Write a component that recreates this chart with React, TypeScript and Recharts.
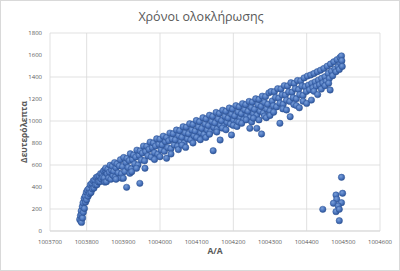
import React from "react";
import { ScatterChart, Scatter, XAxis, YAxis, CartesianGrid } from "recharts";

// [Α/Α, seconds]
const startRun: [number, number][] = [
  [1003781, 105], [1003783, 140], [1003784, 90], [1003785, 182], [1003786, 78], [1003787, 150],
  [1003788, 222], [1003789, 118], [1003790, 256], [1003791, 170], [1003793, 296], [1003794, 205],
  [1003796, 318], [1003797, 262], [1003799, 352], [1003800, 284], [1003802, 372], [1003804, 316],
  [1003806, 386], [1003808, 340], [1003810, 420], [1003812, 350], [1003814, 432], [1003816, 382],
  [1003818, 456], [1003820, 390], [1003822, 462], [1003824, 418], [1003826, 486], [1003828, 420],
  [1003830, 494], [1003832, 446], [1003834, 500], [1003836, 448], [1003838, 522], [1003840, 472],
  [1003842, 520], [1003844, 486], [1003846, 546], [1003848, 482], [1003850, 556], [1003850, 444],
];

const earlyBand: [number, number][] = [
  [1003852, 572], [1003854, 448], [1003856, 520], [1003858, 561], [1003860, 482], [1003862, 535],
  [1003864, 598], [1003866, 470], [1003868, 552], [1003870, 590], [1003872, 505], [1003874, 543],
  [1003876, 622], [1003878, 488], [1003880, 575], [1003883, 610], [1003886, 528], [1003889, 592],
  [1003892, 648], [1003895, 520], [1003898, 585], [1003901, 668], [1003904, 541], [1003907, 622],
  [1003910, 660], [1003913, 578], [1003916, 640], [1003919, 702], [1003922, 566], [1003925, 650],
  [1003928, 690], [1003931, 610], [1003934, 672], [1003937, 735], [1003940, 600], [1003943, 688],
  [1003946, 728], [1003949, 645], [1003952, 708], [1003955, 772], [1003958, 638], [1003961, 722],
  [1003964, 770], [1003967, 684], [1003970, 742], [1003973, 808], [1003976, 672], [1003979, 758],
  [1003982, 800], [1003985, 712], [1003988, 772], [1003991, 838], [1003994, 698], [1003997, 788],
  [1004000, 835],
];

const midBand: [number, number][] = [
  [1004003, 738], [1004006, 782], [1004009, 862], [1004012, 724], [1004015, 812], [1004018, 850],
  [1004021, 758], [1004024, 820], [1004027, 890], [1004030, 748], [1004033, 836], [1004036, 884],
  [1004039, 782], [1004042, 828], [1004045, 918], [1004048, 772], [1004051, 868], [1004054, 912],
  [1004057, 812], [1004060, 852], [1004063, 948], [1004066, 800], [1004069, 892], [1004072, 944],
  [1004075, 838], [1004078, 884], [1004081, 975], [1004084, 828], [1004087, 918], [1004090, 968],
  [1004093, 866], [1004096, 908], [1004099, 1004], [1004102, 852], [1004105, 946], [1004108, 994],
  [1004111, 892], [1004114, 932], [1004117, 1030], [1004120, 878], [1004123, 972], [1004126, 1018],
  [1004129, 918], [1004132, 958], [1004135, 1052], [1004138, 902], [1004141, 996], [1004144, 1042],
  [1004147, 942], [1004150, 982], [1004153, 1078], [1004156, 928], [1004159, 1018], [1004162, 1068],
  [1004165, 962], [1004168, 1002], [1004171, 1098], [1004174, 952], [1004177, 1042], [1004180, 1088],
  [1004183, 988], [1004186, 1026], [1004189, 1118], [1004192, 972], [1004195, 1062], [1004198, 1108],
  [1004201, 1008], [1004204, 1046], [1004207, 1140], [1004210, 992], [1004213, 1082], [1004216, 1128],
  [1004219, 1028], [1004222, 1066], [1004225, 1158], [1004228, 1012], [1004231, 1102], [1004234, 1148],
  [1004237, 1048], [1004240, 1088], [1004243, 1178], [1004246, 1032], [1004249, 1122], [1004252, 1172],
  [1004255, 1068], [1004258, 1106], [1004261, 1202], [1004264, 1052], [1004267, 1148], [1004270, 1196],
  [1004273, 1088], [1004276, 1132], [1004279, 1226], [1004282, 1072], [1004285, 1168], [1004288, 1222],
  [1004291, 1108], [1004294, 1152], [1004297, 1256], [1004300, 1092],
];

const lateBand: [number, number][] = [
  [1004303, 1268], [1004306, 1182], [1004309, 1138], [1004312, 1266], [1004315, 1214], [1004318, 1128],
  [1004321, 1294], [1004324, 1208], [1004327, 1162], [1004330, 1292], [1004333, 1238], [1004336, 1152],
  [1004339, 1322], [1004342, 1236], [1004345, 1188], [1004348, 1318], [1004351, 1264], [1004354, 1178],
  [1004357, 1348], [1004360, 1262], [1004363, 1212], [1004366, 1342], [1004369, 1294], [1004372, 1202],
  [1004375, 1368], [1004378, 1286], [1004381, 1240], [1004384, 1366], [1004387, 1318], [1004390, 1232],
  [1004393, 1392], [1004396, 1312], [1004399, 1268], [1004402, 1408], [1004405, 1326], [1004408, 1284],
  [1004411, 1418], [1004414, 1342], [1004417, 1302], [1004420, 1432], [1004423, 1356], [1004426, 1316],
  [1004429, 1448], [1004432, 1372], [1004435, 1330], [1004438, 1462], [1004441, 1388], [1004444, 1346],
  [1004447, 1478], [1004450, 1402], [1004453, 1362], [1004456, 1498], [1004459, 1432], [1004462, 1388],
  [1004465, 1518], [1004468, 1452], [1004471, 1412], [1004474, 1538], [1004477, 1472], [1004480, 1448],
  [1004483, 1558], [1004486, 1494], [1004489, 1468], [1004491, 1578], [1004493, 1522], [1004495, 1592],
  [1004496, 1548], [1004497, 1496],
];

const belowBand: [number, number][] = [
  [1003880, 470], [1003895, 480], [1003900, 479], [1003909, 397], [1003918, 524], [1003923, 539],
  [1003936, 570], [1003945, 433], [1003959, 570], [1003985, 650], [1004000, 675], [1004018, 661],
  [1004030, 700], [1004050, 740], [1004060, 780], [1004070, 760], [1004090, 800], [1004100, 850],
  [1004110, 830], [1004125, 850], [1004135, 880], [1004145, 730], [1004155, 900], [1004164, 827],
  [1004170, 935], [1004180, 920], [1004195, 873], [1004200, 960], [1004210, 950], [1004215, 990],
  [1004223, 979], [1004235, 1010], [1004245, 933], [1004250, 990], [1004255, 1025], [1004264, 933],
  [1004270, 1010], [1004277, 882], [1004285, 1045], [1004290, 1030], [1004300, 1050], [1004310, 1080],
  [1004327, 979], [1004335, 1110], [1004345, 1100], [1004355, 1039], [1004365, 1150], [1004372, 1140],
  [1004380, 1120], [1004390, 1180], [1004400, 1160], [1004413, 1190], [1004420, 1270], [1004430, 1240],
  [1004440, 1290], [1004450, 1320], [1004460, 1343], [1004464, 1282],
];

const lateOutliers: [number, number][] = [
  [1004495, 488], [1004498, 343], [1004480, 327], [1004482, 288], [1004473, 252], [1004495, 257],
  [1004486, 227], [1004444, 197], [1004480, 176], [1004489, 197], [1004489, 94],
];

const xTicks = [1003700, 1003800, 1003900, 1004000, 1004100, 1004200, 1004300, 1004400, 1004500, 1004600];
const yTicks = [0, 200, 400, 600, 800, 1000, 1200, 1400, 1600, 1800];

const points = [...startRun, ...earlyBand, ...midBand, ...lateBand, ...belowBand, ...lateOutliers].map(
  ([x, y]) => ({ x, y })
);

const font = "'Open Sans', 'DejaVu Sans', sans-serif";
const tickStyle = { fontSize: 6, fill: "#595959", fontFamily: font };

const Dot = (props: any) => {
  const { cx, cy } = props;
  if (cx == null || cy == null) return null;
  return <circle cx={cx} cy={cy} r={3.2} fill="url(#dotGrad)" stroke="#2f5597" strokeWidth={0.5} />;
};

export default function App() {
  return (
    <div
      style={{
        position: "absolute",
        left: 0,
        top: 0,
        width: 400,
        height: 271,
        background: "#fff",
        boxSizing: "border-box",
        border: "1px solid #d9d9d9",
      }}
    >
      <div
        style={{
          position: "absolute",
          top: 7,
          left: 0,
          width: 400,
          textAlign: "center",
          fontFamily: font,
          fontSize: 12.5,
          color: "#595959",
        }}
      >
        Χρόνοι ολοκλήρωσης
      </div>
      <div
        style={{
          position: "absolute",
          left: -17,
          top: 125,
          width: 80,
          height: 12,
          lineHeight: "12px",
          textAlign: "center",
          transform: "rotate(-90deg)",
          transformOrigin: "50% 50%",
          fontFamily: font,
          fontSize: 8.5,
          fontWeight: 700,
          color: "#595959",
        }}
      >
        Δευτερόλεπτα
      </div>
      <ScatterChart width={398} height={269} margin={{ top: 32, right: 19, bottom: 19, left: 7 }}>
        <defs>
          <radialGradient id="dotGrad" cx="40%" cy="35%" r="65%">
            <stop offset="0%" stopColor="#7a9fd8" />
            <stop offset="60%" stopColor="#4a74bd" />
            <stop offset="100%" stopColor="#2f5597" />
          </radialGradient>
        </defs>
        <CartesianGrid stroke="#d9d9d9" strokeWidth={0.8} />
        <XAxis
          type="number"
          dataKey="x"
          domain={[1003700, 1004600]}
          ticks={xTicks}
          allowDataOverflow
          tickLine={false}
          axisLine={{ stroke: "#d9d9d9" }}
          tick={tickStyle}
          tickMargin={3}
          height={20}
          label={{
            value: "Α/Α",
            position: "insideBottom",
            offset: -3,
            style: { fontSize: 8.5, fontWeight: 700, fill: "#595959", fontFamily: font },
          }}
        />
        <YAxis
          type="number"
          dataKey="y"
          domain={[0, 1800]}
          ticks={yTicks}
          allowDataOverflow
          tickLine={false}
          axisLine={false}
          tick={tickStyle}
          tickMargin={2}
          width={42}
        />
        <Scatter data={points} shape={<Dot />} isAnimationActive={false} />
      </ScatterChart>
    </div>
  );
}
